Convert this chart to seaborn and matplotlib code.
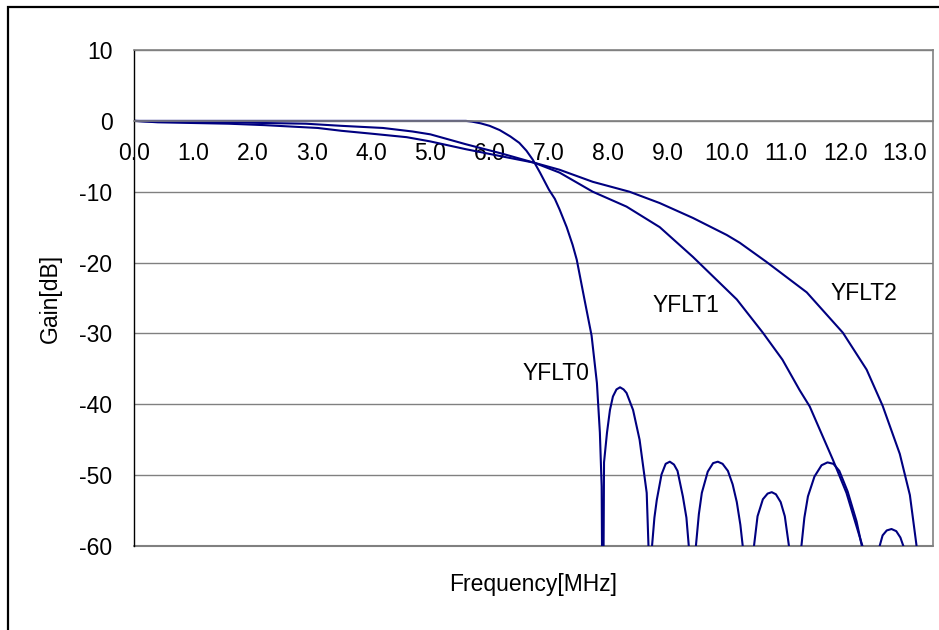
import numpy as np
import pandas as pd
import matplotlib
matplotlib.use("Agg")
import matplotlib.pyplot as plt
import seaborn as sns
from matplotlib.patches import Rectangle

# values (frequency in MHz, gain in dB)
# points below -60 only mark the nulls, they get clipped by the axis
freq0 = [0.0, 1.0, 2.0, 3.0, 4.0, 5.0, 5.6, 5.7, 5.85, 6.0, 6.17, 6.35, 6.5, 6.62,
         6.73, 6.85, 7.0, 7.1, 7.18, 7.3, 7.4, 7.47, 7.6, 7.72, 7.81, 7.86, 7.89, 7.91,
         7.93, 7.98, 8.03, 8.08, 8.14, 8.2, 8.26, 8.31, 8.42, 8.53, 8.65, 8.68, 8.71,
         8.74, 8.78, 8.82, 8.9, 8.97, 9.04, 9.11, 9.17, 9.26, 9.32, 9.36, 9.42,
         9.48, 9.53, 9.58, 9.68, 9.77, 9.85, 9.93, 10.02, 10.1, 10.17, 10.23, 10.27, 10.36,
         10.46, 10.52, 10.61, 10.69, 10.76, 10.83, 10.91, 10.98, 11.05, 11.15,
         11.26, 11.31, 11.37, 11.48, 11.6, 11.7, 11.8, 11.9, 12.04, 12.19, 12.28, 12.43,
         12.58, 12.63, 12.7, 12.78, 12.86, 12.93, 12.98, 13.2, 13.48]
gain0 = [0.0, 0.0, 0.0, 0.0, 0.0, 0.0, 0.0, -0.1, -0.35, -0.7, -1.3, -2.2, -3.1, -4.2,
         -5.5, -7.3, -9.7, -11.0, -12.5, -15.0, -17.5, -19.6, -25.2, -30.3, -37.0, -44.0, -51.6, -80,
         -48.2, -44.0, -40.8, -38.9, -37.9, -37.6, -37.9, -38.4, -40.8, -45.0, -52.5, -60, -80,
         -60, -56.0, -53.5, -49.9, -48.4, -48.1, -48.5, -49.4, -53.0, -56.0, -60, -80,
         -60, -55.5, -52.5, -49.5, -48.3, -48.1, -48.4, -49.4, -51.3, -53.8, -57.0, -60, -80,
         -60, -55.8, -53.4, -52.6, -52.4, -52.7, -53.8, -55.8, -60, -80,
         -60, -56.0, -53.0, -50.2, -48.6, -48.2, -48.4, -49.4, -52.3, -56.5, -60, -80,
         -60, -58.5, -57.8, -57.6, -57.9, -58.8, -60, -80, -80]

freq1 = [0.0, 0.4, 1.6, 2.2, 2.9, 3.5, 4.2, 4.7, 5.0, 5.6, 6.2, 6.75, 7.18, 7.74,
         8.31, 8.87, 9.43, 10.17, 10.61, 10.94, 11.23, 11.4, 11.79, 12.02, 12.29, 12.4]
gain1 = [0.0, -0.1, -0.2, -0.3, -0.4, -0.7, -1.0, -1.5, -1.9, -3.3, -4.6, -5.9, -7.3, -10.0,
         -12.1, -15.0, -19.2, -25.2, -29.9, -33.7, -38.0, -40.3, -47.8, -52.5, -60, -70]

freq2 = [0.0, 0.4, 1.6, 2.2, 3.1, 3.5, 4.0, 4.6, 5.0, 5.6, 6.2, 6.75, 7.18, 7.74,
         8.36, 8.87, 9.43, 10.0, 10.22, 10.67, 11.35, 11.96, 12.36, 12.63, 12.92,
         13.09, 13.2, 13.3]
gain2 = [0.0, -0.2, -0.4, -0.6, -1.0, -1.4, -1.8, -2.3, -2.9, -4.0, -5.0, -5.9, -6.9, -8.6,
         -10.0, -11.6, -13.7, -16.1, -17.2, -19.9, -24.2, -29.9, -35.1, -40.2, -47.0,
         -52.8, -59.8, -70]

curve_names = ["YFLT0", "YFLT1", "YFLT2"]
name_xy = [(7.12, -35.7), (9.31, -26.1), (12.31, -24.4)]

yticks = list(range(-60, 11, 10))
xticks = list(range(0, 14))
xtick_labels = [f"{v:.1f}" for v in xticks]

sns.set_style("white")
plt.rcParams["font.family"] = ["Liberation Sans", "DejaVu Sans"]
plt.rcParams["axes.unicode_minus"] = False
plt.rcParams["text.color"] = "black"
plt.rcParams["axes.labelcolor"] = "black"
plt.rcParams["xtick.color"] = "black"
plt.rcParams["ytick.color"] = "black"

fs = 16.5
navy = "#000080"
grey = "#808080"

fig = plt.figure(figsize=(9.39, 6.30), dpi=100)
ax = fig.add_axes([0.1427, 0.1333, 0.8509, 0.7873])

for f, g in [(freq0, gain0), (freq1, gain1), (freq2, gain2)]:
    sns.lineplot(x=f, y=g, ax=ax, sort=False, estimator=None, color=navy, lw=1.5)

ax.set_xlim(0, 13.48)
ax.set_ylim(-60, 10)
ax.set_yticks(yticks)
ax.set_xticks(xticks)
ax.set_xticklabels(xtick_labels)

ax.set_axisbelow(True)
ax.yaxis.grid(True, color=grey, lw=1)
ax.xaxis.grid(False)
# bottom edge of the plot area (the x axis itself sits at 0 dB)
ax.axhline(-60, color=grey, lw=1.5, clip_on=False, zorder=1)

ax.spines["bottom"].set_position(("data", 0))
for side in ["top", "right", "bottom"]:
    ax.spines[side].set_color(grey)
    ax.spines[side].set_linewidth(1.2)
ax.spines["left"].set_color("black")
ax.spines["left"].set_linewidth(1.0)

ax.tick_params(axis="x", direction="in", length=6, width=1, color="black",
               pad=15, labelsize=fs)
ax.tick_params(axis="y", direction="in", length=6, width=1, color="black",
               pad=15.5, labelsize=fs)

for name, (tx, ty) in zip(curve_names, name_xy):
    ax.text(tx, ty, name, fontsize=fs, ha="center", va="center")

ax.set_xlabel("Frequency[MHz]", fontsize=fs)
ax.xaxis.set_label_coords(0.5, -0.054)
ax.set_ylabel("Gain[dB]", fontsize=fs)
ax.yaxis.set_label_coords(-0.09, 0.5)

# outer chart frame (runs off the right and bottom edge like the original)
fig.add_artist(Rectangle((8 / 939, -0.1), 1.5, 1.0889, transform=fig.transFigure,
                         fill=False, ec="black", lw=1.6))

fig.savefig("out.png", dpi=100)
